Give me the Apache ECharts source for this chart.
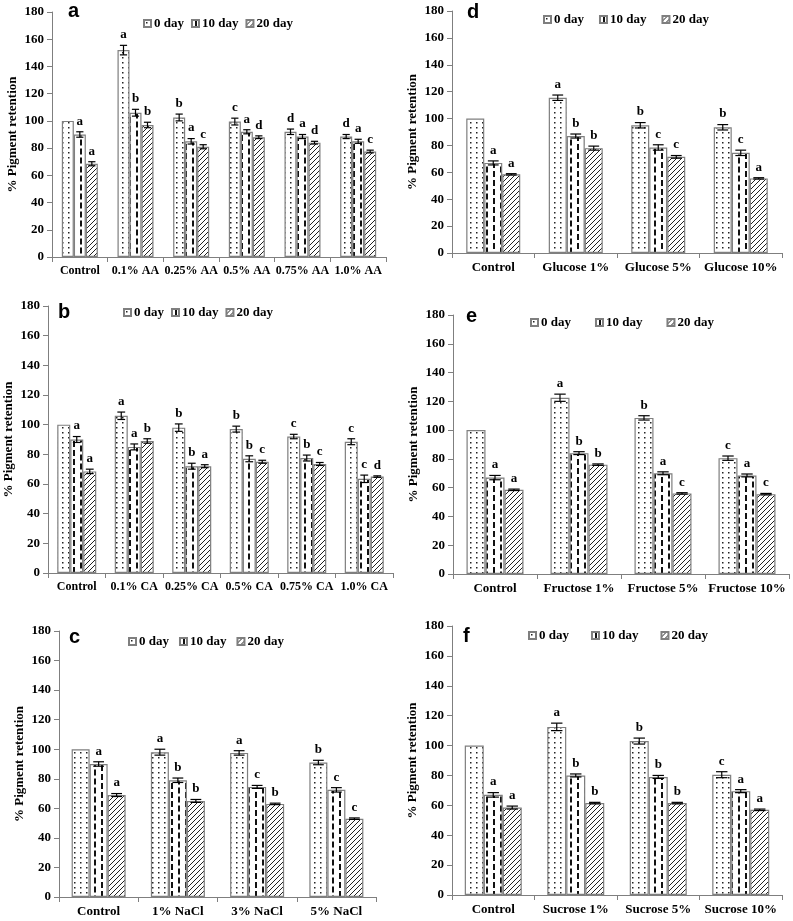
<!DOCTYPE html>
<html>
<head>
<meta charset="utf-8">
<script src="https://cdn.jsdelivr.net/npm/echarts@6/dist/echarts.min.js"></script>
<style>
html,body{margin:0;padding:0;background:#fff;}
#main{width:793px;height:921px;}
</style>
</head>
<body>
<div id="main"></div>
<script>
// data: rows are 0 day, 10 day, 20 day
var days = ['0 day', '10 day', '20 day'];
var yTicks = [0, 180, 20]; // min, max, step

var catsA = ['Control', '0.1% AA', '0.25% AA', '0.5% AA', '0.75% AA', '1.0% AA'];
var valsA = [[100, 152, 102.5, 99.5, 92, 88.5], [90, 106, 85, 92, 88.5, 85], [68.5, 97, 81, 88, 84, 77.5]];
var errsA = [[0, 3.5, 2.5, 2.5, 2, 1.5], [2, 2.5, 2, 1.5, 1.5, 1.5], [1.5, 2, 1.5, 1, 1, 1]];
var letsA = [['', 'a', 'b', 'c', 'd', 'd'], ['a', 'b', 'a', 'a', 'a', 'a'], ['a', 'b', 'c', 'd', 'd', 'c']];

var catsB = ['Control', '0.1% CA', '0.25% CA', '0.5% CA', '0.75% CA', '1.0% CA'];
var valsB = [[100, 106, 98, 97, 92, 88.5], [90, 85, 72, 77, 77.5, 63.5], [68.5, 89, 72, 75, 73.5, 65]];
var errsB = [[0, 2.5, 2.5, 2, 1.5, 2], [2, 2, 2, 2, 2, 2.5], [1.5, 1.5, 1, 1, 1, 0.5]];
var letsB = [['', 'a', 'b', 'b', 'c', 'c'], ['a', 'a', 'b', 'b', 'b', 'c'], ['a', 'b', 'a', 'c', 'c', 'd']];

var catsC = ['Control', '1% NaCl', '3% NaCl', '5% NaCl'];
var valsC = [[100, 98, 97.5, 91], [90, 79, 74.5, 72.5], [69, 65, 63, 53]];
var errsC = [[0, 2, 1.5, 1.5], [1.5, 1.5, 1, 1.5], [1, 1, 0.5, 0.5]];
var letsC = [['', 'a', 'a', 'b'], ['a', 'b', 'c', 'c'], ['a', 'b', 'b', 'c']];

var catsD = ['Control', 'Glucose 1%', 'Glucose 5%', 'Glucose 10%'];
var valsD = [[100, 115.5, 95, 93.5], [67, 87, 78.5, 74.5], [58.5, 78, 71.5, 55.5]];
var errsD = [[0, 2, 2, 2], [1.5, 1.5, 2, 2], [0.5, 1.5, 1, 0.5]];
var letsD = [['', 'a', 'b', 'b'], ['a', 'b', 'c', 'c'], ['a', 'b', 'c', 'a']];

var catsE = ['Control', 'Fructose 1%', 'Fructose 5%', 'Fructose 10%'];
var valsE = [[100, 122.5, 108.5, 80.5], [67, 84, 70, 68.5], [58.5, 76, 56, 55.5]];
var errsE = [[0, 2.5, 1.5, 1.5], [1.5, 1, 1, 1], [0.5, 0.5, 0.5, 0.5]];
var letsE = [['', 'a', 'b', 'c'], ['a', 'b', 'a', 'a'], ['a', 'b', 'c', 'c']];

var catsF = ['Control', 'Sucrose 1%', 'Sucrose 5%', 'Sucrose 10%'];
var valsF = [[100, 112.5, 103, 80.5], [67, 80, 79, 69.5], [58.5, 61.5, 61.5, 57]];
var errsF = [[0, 2.5, 2, 2], [1.5, 1, 1, 1], [1, 0.5, 0.5, 0.5]];
var letsF = [['', 'a', 'b', 'c'], ['a', 'b', 'b', 'a'], ['a', 'b', 'b', 'a']];

var serif = '"Liberation Serif", "Times New Roman", serif';
var axisGray = '#7f7f7f';

// fill patterns
function makePattern(kind) {
	var c = document.createElement('canvas');
	var g;
	if (kind == 'dots') {
		c.width = 6; c.height = 5;
		g = c.getContext('2d');
		g.fillStyle = '#fff'; g.fillRect(0, 0, 6, 5);
		g.fillStyle = '#222'; g.fillRect(2, 2, 1.5, 1.5);
	} else if (kind == 'dash') {
		c.width = 14; c.height = 9;
		g = c.getContext('2d');
		g.fillStyle = '#fff'; g.fillRect(0, 0, 14, 9);
		g.fillStyle = '#111';
		g.fillRect(3, 0, 2, 6);
		g.fillRect(10, 4.5, 2, 4.5);
		g.fillRect(10, 0, 2, 1.5);
	} else {
		c.width = 5; c.height = 5;
		g = c.getContext('2d');
		g.fillStyle = '#fff'; g.fillRect(0, 0, 5, 5);
		g.strokeStyle = '#222'; g.lineWidth = 1;
		g.beginPath();
		g.moveTo(-1, 6); g.lineTo(6, -1);
		g.moveTo(-1, 1); g.lineTo(1, -1);
		g.moveTo(4, 6); g.lineTo(6, 4);
		g.stroke();
	}
	return {image: c, repeat: 'repeat'};
}
var fills = [makePattern('dots'), makePattern('dash'), makePattern('hatch')];

var chart = echarts.init(document.getElementById('main'));
var grids = [], xAxes = [], yAxes = [], series = [], legends = [], titles = [];

// error bar + letter for one day series
function errItem(day, bw, lets) {
	return function (params, api) {
		var c = api.value(0), v = api.value(1), e = api.value(2);
		var x = api.coord([c, v])[0] + (day - 1) * bw;
		var yt = api.coord([c, v + e])[1];
		var yb = api.coord([c, v - e])[1];
		var hw = bw * 0.3;
		var kids = [];
		var ls = {stroke: '#000', lineWidth: 1.2};
		if (e > 0) {
			kids.push({type: 'line', shape: {x1: x, y1: yt, x2: x, y2: yb}, style: ls});
			kids.push({type: 'line', shape: {x1: x - hw, y1: yt, x2: x + hw, y2: yt}, style: ls});
			kids.push({type: 'line', shape: {x1: x - hw, y1: yb, x2: x + hw, y2: yb}, style: ls});
		}
		var t = lets[day][params.dataIndex];
		if (t) {
			kids.push({type: 'text', x: x, y: yt - 4, style: {
				text: t, fill: '#000', fontFamily: serif, fontWeight: 'bold', fontSize: 13,
				align: 'center', verticalAlign: 'bottom'
			}});
		}
		return {type: 'group', children: kids};
	};
}

// one panel; tag = [letter, left, top]
function panel(i, box, cats, vals, errs, lets, bw, lg, tag, xFont) {
	grids.push({left: box[0], top: box[1], width: box[2], height: box[3]});
	xAxes.push({
		gridIndex: i, type: 'category', data: cats,
		axisLine: {lineStyle: {color: axisGray, width: 1}},
		axisTick: {show: true, length: 5, lineStyle: {color: axisGray}},
		axisLabel: {interval: 0, color: '#000', fontFamily: serif, fontWeight: 'bold', fontSize: xFont, margin: 8}
	});
	yAxes.push({
		gridIndex: i, type: 'value', min: yTicks[0], max: yTicks[1], interval: yTicks[2],
		axisLine: {show: true, lineStyle: {color: axisGray, width: 1}},
		axisTick: {show: true, length: 5, lineStyle: {color: axisGray}},
		splitLine: {show: false},
		axisLabel: {color: '#000', fontFamily: serif, fontWeight: 'bold', fontSize: 13, margin: 8},
		name: '% Pigment retention', nameLocation: 'middle', nameGap: 33,
		nameTextStyle: {color: '#000', fontFamily: serif, fontWeight: 'bold', fontSize: 13}
	});
	for (var d = 0; d < 3; d++) {
		series.push({
			type: 'bar', name: days[d], xAxisIndex: i, yAxisIndex: i,
			data: vals[d], barWidth: bw, barGap: '0%',
			itemStyle: {color: fills[d], borderColor: axisGray, borderWidth: 1.2}
		});
	}
	for (var d = 0; d < 3; d++) {
		var pts = [];
		for (var k = 0; k < cats.length; k++) pts.push([k, vals[d][k], errs[d][k]]);
		series.push({
			type: 'custom', xAxisIndex: i, yAxisIndex: i, z: 5,
			data: pts, encode: {x: 0, y: 1},
			renderItem: errItem(d, bw, lets)
		});
	}
	legends.push({
		data: days, left: lg[0], top: lg[1], itemGap: lg[2],
		icon: 'rect', itemWidth: 7, itemHeight: 7, selectedMode: false, padding: 0,
		textStyle: {color: '#000', fontFamily: serif, fontWeight: 'bold', fontSize: 13, padding: [0, 0, 0, -2]}
	});
	titles.push({
		text: tag[0], left: tag[1], top: tag[2], padding: 0,
		textStyle: {color: '#000', fontFamily: '"Liberation Sans", Arial, sans-serif', fontWeight: 'bold', fontSize: 20}
	});
}

panel(0, [52, 12, 334, 245], catsA, valsA, errsA, letsA, 12, [143, 17, 7], ['a', 68, 1], 12);
panel(1, [48, 306, 345, 267], catsB, valsB, errsB, letsB, 13, [123, 306, 7], ['b', 58, 302], 12);
panel(2, [59, 631, 317, 266], catsC, valsC, errsC, letsC, 18, [128, 635, 10], ['c', 69, 627], 13);
panel(3, [452, 11, 330, 242], catsD, valsD, errsD, letsD, 18, [543, 13, 15], ['d', 467, 2], 13);
panel(4, [453, 315, 336, 259], catsE, valsE, errsE, letsE, 19, [530, 316, 24], ['e', 466, 306], 13);
panel(5, [452, 626, 330, 269], catsF, valsF, errsF, letsF, 19, [528, 629, 22], ['f', 463, 626], 13);

chart.setOption({
	animation: false,
	backgroundColor: '#fff',
	title: titles,
	legend: legends,
	grid: grids,
	xAxis: xAxes,
	yAxis: yAxes,
	series: series
});
</script>
</body>
</html>
